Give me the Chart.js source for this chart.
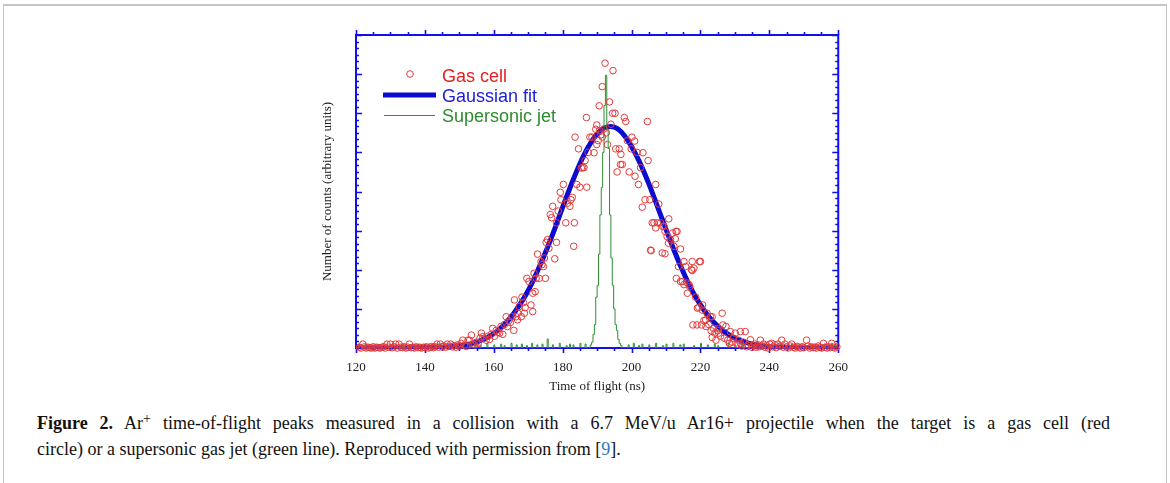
<!DOCTYPE html>
<html>
<head>
<meta charset="utf-8">
<title>Ar+ time-of-flight peaks</title>
<script src="https://cdn.jsdelivr.net/npm/chart.js@4.4.1/dist/chart.umd.min.js"></script>
<style>
  html, body { margin: 0; padding: 0; background: #fff; }
  body { width: 1170px; height: 483px; position: relative; overflow: hidden; }
  .frame {
    position: absolute; left: 3px; top: 4px; width: 1162px; height: 540px;
    border: 1px solid #c6c6c6; border-top: 2px solid #c6c6c6;
  }
  .plot { position: absolute; left: 300px; top: 20px; width: 560px; height: 390px; }
  .caption {
    position: absolute; left: 37px; top: 410px; width: 1073px;
    font-family: "Liberation Serif", "Times New Roman", serif;
    font-size: 18px; line-height: 26px; color: #111; white-space: nowrap;
  }
  .caption .first { text-align: justify; text-align-last: justify; }
  .caption sup { font-size: 14px; line-height: 0; vertical-align: 6px; }
  .caption a { color: #2b7cb8; text-decoration: none; }
</style>
</head>
<body>
<div class="frame"></div>
<div class="plot"><canvas id="tof" width="560" height="390"></canvas></div>
<div class="caption">
  <div class="first"><b>Figure 2.</b> Ar<sup>+</sup> time-of-flight peaks measured in a collision with a 6.7 MeV/u Ar16+ projectile when the target is a gas cell (red</div>
  <div>circle) or a supersonic gas jet (green line). Reproduced with permission from [<a href="#">9</a>].</div>
</div>
<script>
// time (ns), counts (arbitrary units)
const gasCell = [
  [121.0, 0.02], [121.5, 0.0], [122.0, 0.1], [122.5, 0.03], [123.0, 0.0], [123.5, 0.02],
  [124.0, 0.01], [124.5, 0.0], [125.0, 0.03], [125.5, 0.0], [126.0, 0.02], [126.5, 0.01],
  [127.0, 0.0], [127.5, 0.02], [128.0, 0.03], [128.5, 0.0], [129.0, 0.1], [129.5, 0.02],
  [130.0, 0.1], [130.5, 0.01], [131.0, 0.03], [131.5, 0.1], [132.0, 0.0], [132.5, 0.1],
  [133.0, 0.02], [133.5, 0.01], [134.0, 0.03], [134.5, 0.0], [135.0, 0.02], [135.5, 0.1],
  [136.0, 0.01], [136.5, 0.02], [137.0, 0.0], [137.5, 0.03], [138.0, 0.01], [138.5, 0.02],
  [139.0, 0.0], [139.5, 0.02], [140.0, 0.01], [140.5, 0.03], [141.0, 0.0], [141.5, 0.02],
  [142.0, 0.04], [142.5, 0.01], [143.0, 0.03], [143.5, 0.1], [144.0, 0.02], [144.5, 0.1],
  [145.0, 0.03], [145.5, 0.05], [146.0, 0.02], [146.5, 0.1], [147.0, 0.04], [147.5, 0.1],
  [148.0, 0.03], [148.5, 0.06], [149.0, 0.02], [149.5, 0.08], [150.0, 0.05], [150.5, 0.12],
  [151.0, 0.2], [151.5, 0.07], [152.0, 0.04], [152.5, 0.2], [153.0, 0.2], [153.5, 0.33],
  [154.0, 0.1], [154.5, 0.08], [155.0, 0.15], [155.5, 0.12], [156.0, 0.25], [156.4, 0.38],
  [156.8, 0.29], [157.3, 0.25], [157.8, 0.2], [158.3, 0.3], [158.8, 0.22], [159.3, 0.35],
  [159.7, 0.5], [160.2, 0.3], [160.7, 0.45], [161.2, 0.4], [161.7, 0.38], [162.1, 0.55],
  [162.6, 0.35], [163.1, 0.6], [163.6, 0.8], [164.0, 0.55], [164.4, 0.7], [164.8, 0.65],
  [165.3, 0.8], [165.8, 0.45], [166.0, 1.23], [166.5, 0.8], [166.9, 0.72], [167.0, 0.89],
  [167.4, 1.06], [168.0, 0.8], [168.2, 1.3], [168.6, 1.16], [168.9, 0.89], [169.1, 1.03],
  [169.6, 1.78], [170.2, 1.7], [170.8, 1.1], [171.3, 1.4], [171.3, 0.93], [171.7, 1.91],
  [172.0, 1.44], [172.3, 1.78], [172.7, 2.4], [173.2, 1.78], [173.7, 2.21], [174.0, 2.13],
  [174.4, 2.08], [174.7, 2.3], [175.0, 1.78], [175.2, 2.7], [175.6, 2.77], [176.0, 2.55],
  [176.4, 3.41], [176.8, 3.33], [177.1, 3.62], [177.7, 2.28], [178.2, 3.2], [178.2, 2.7],
  [178.7, 3.5], [179.3, 3.98], [179.5, 3.79], [180.2, 4.18], [180.9, 3.2], [181.4, 3.7],
  [182.1, 3.62], [182.4, 3.79], [182.8, 3.85], [183.2, 2.6], [183.4, 3.2], [183.6, 5.39],
  [184.1, 4.18], [184.6, 5.09], [185.0, 4.11], [185.4, 4.6], [185.8, 4.61], [186.2, 4.61],
  [186.5, 4.79], [186.9, 5.89], [187.0, 4.11], [187.4, 5.0], [187.9, 5.39], [188.5, 5.39],
  [189.1, 4.99], [189.6, 5.59], [189.9, 5.2], [189.9, 5.7], [190.3, 5.3], [190.6, 6.19],
  [190.7, 5.56], [191.1, 5.45], [191.5, 6.68], [191.5, 5.39], [192.0, 5.6], [192.3, 7.28],
  [192.7, 5.5], [193.0, 5.2], [193.6, 6.29], [194.0, 5.72], [194.5, 6.0], [194.6, 7.09],
  [195.2, 6.0], [195.4, 5.09], [195.8, 4.5], [196.4, 5.09], [196.8, 4.69], [196.9, 4.95],
  [197.3, 4.69], [197.9, 5.89], [198.3, 5.79], [198.8, 5.3], [199.3, 4.5], [199.9, 5.09],
  [200.1, 5.39], [200.9, 5.29], [201.0, 4.39], [201.6, 5.0], [202.0, 4.18], [202.6, 4.61],
  [203.1, 3.6], [203.3, 4.99], [203.9, 3.79], [204.6, 5.79], [204.8, 4.79], [205.3, 3.79],
  [205.5, 2.5], [205.7, 2.49], [206.0, 3.2], [206.5, 3.2], [207.0, 4.18], [207.0, 3.07],
  [207.5, 3.2], [207.9, 3.68], [208.4, 3.2], [208.9, 2.43], [209.0, 3.11], [209.4, 3.11],
  [209.7, 2.98], [209.7, 2.41], [210.3, 2.85], [210.7, 2.68], [210.8, 3.3], [211.3, 2.77],
  [211.9, 2.94], [212.3, 2.6], [212.7, 2.79], [212.9, 2.98], [213.0, 1.78], [213.2, 2.98],
  [213.6, 2.08], [214.2, 2.53], [214.2, 1.7], [214.8, 1.7], [215.2, 2.21], [215.2, 1.62],
  [215.7, 2.08], [216.2, 1.66], [216.2, 1.4], [216.7, 1.62], [216.9, 1.57], [217.4, 2.0],
  [217.6, 2.21], [217.6, 1.98], [217.8, 0.59], [218.1, 2.04], [218.6, 1.3], [219.1, 1.02],
  [219.0, 0.59], [219.5, 1.04], [219.7, 2.21], [220.0, 2.21], [220.3, 0.59], [220.5, 0.97],
  [220.6, 1.1], [221.0, 0.7], [221.5, 0.72], [221.6, 0.55], [221.9, 0.89], [222.4, 0.6],
  [222.9, 0.8], [223.1, 0.44], [223.4, 0.27], [223.4, 0.8], [223.8, 0.5], [224.2, 0.38],
  [224.5, 0.2], [225.0, 0.45], [225.3, 0.5], [225.3, 0.38], [225.8, 0.3], [226.3, 0.89],
  [226.5, 0.59], [226.9, 0.25], [227.4, 0.55], [227.9, 0.2], [228.4, 0.12], [228.7, 0.42],
  [229.2, 0.15], [229.6, 0.25], [230.1, 0.38], [230.6, 0.1], [231.1, 0.2], [231.6, 0.42],
  [231.6, 0.12], [232.0, 0.05], [232.5, 0.15], [233.0, 0.42], [233.4, 0.03], [233.8, 0.08],
  [234.5, 0.21], [234.9, 0.02], [235.3, 0.06], [235.8, 0.1], [236.2, 0.02], [236.7, 0.08],
  [237.0, 0.03], [237.4, 0.2], [237.9, 0.05], [238.3, 0.1], [238.8, 0.02], [239.2, 0.06],
  [239.7, 0.0], [240.1, 0.1], [240.7, 0.12], [241.1, 0.03], [241.6, 0.08], [242.0, 0.01],
  [242.5, 0.1], [243.0, 0.04], [243.6, 0.2], [244.0, 0.02], [244.5, 0.1], [245.0, 0.03],
  [245.5, 0.0], [246.0, 0.05], [246.5, 0.1], [247.0, 0.02], [247.5, 0.0], [248.0, 0.04],
  [248.5, 0.02], [249.0, 0.0], [249.5, 0.03], [250.0, 0.01], [250.8, 0.2], [251.2, 0.05],
  [251.7, 0.0], [252.2, 0.03], [252.7, 0.01], [253.2, 0.02], [253.7, 0.0], [254.2, 0.05],
  [254.7, 0.02], [255.2, 0.0], [255.7, 0.12], [256.2, 0.02], [256.7, 0.0], [257.2, 0.03],
  [257.7, 0.01], [258.1, 0.12], [258.6, 0.02], [259.1, 0.0], [259.6, 0.03]
];

const fitTime = [120, 130, 140, 145, 150, 152.5, 155, 157.5, 160, 162.5, 165, 167.5, 170, 172.5,
  175, 177.5, 180, 182.5, 185, 187.5, 190, 192, 194, 196, 198, 200, 202.5, 205, 207.5, 210,
  212.5, 215, 217.5, 220, 222.5, 225, 227.5, 230, 232.5, 235, 240, 245, 250, 260];
const fitCounts = [0, 0, 0.01, 0.02, 0.06, 0.09, 0.15, 0.24, 0.37, 0.55, 0.79, 1.1, 1.47, 1.93,
  2.44, 3.0, 3.6, 4.18, 4.71, 5.15, 5.47, 5.62, 5.66, 5.6, 5.42, 5.15, 4.72, 4.2, 3.62, 3.03,
  2.46, 1.94, 1.48, 1.1, 0.79, 0.56, 0.38, 0.25, 0.16, 0.1, 0.03, 0.01, 0, 0];

// supersonic jet histogram: peak bins (left edge, counts)
const jetBins = [188.0, 188.4, 188.8, 189.2, 189.6, 190.0, 190.4, 190.8, 191.2, 191.6, 192.0,
  192.4, 192.8, 193.2, 193.6, 194.0, 194.4, 194.8, 195.2, 195.6, 196.0, 196.4, 196.8, 197.2];
const jetCounts = [0.08, 0.15, 0.35, 0.6, 1.3, 1.6, 2.4, 3.4, 4.1, 5.0, 6.2,
  6.97, 5.6, 5.1, 3.4, 2.3, 1.6, 1.0, 0.6, 0.45, 0.22, 0.12, 0.06, 0];
// small background counts of the jet spectrum
const jetNoiseTime = [120.7, 122.5, 130, 133.5, 137, 143, 144, 146, 149, 151, 153, 154.5, 156,
  158, 160, 162, 163, 165, 166.5, 168, 169.5, 171, 172.5, 174, 175.5, 177, 179, 181, 182, 183,
  185, 186.5, 199, 200.5, 202, 203, 205, 207, 209, 210, 212, 214, 215, 218, 220, 222, 224, 225,
  228, 230, 232, 236, 240, 243, 248, 252, 256, 258, 259];
const jetNoiseCounts = [0.1, 0.08, 0.06, 0.1, 0.05, 0.08, 0.1, 0.06, 0.12, 0.08, 0.05, 0.1, 0.07,
  0.12, 0.08, 0.1, 0.06, 0.12, 0.08, 0.1, 0.06, 0.12, 0.08, 0.1, 0.23, 0.08, 0.12, 0.06, 0.1,
  0.08, 0.12, 0.1, 0.08, 0.12, 0.06, 0.1, 0.08, 0.12, 0.06, 0.1, 0.12, 0.08, 0.1, 0.06, 0.12,
  0.08, 0.1, 0.06, 0.12, 0.08, 0.1, 0.06, 0.08, 0.1, 0.06, 0.08, 0.1, 0.12, 0.1];

const xMin = 120, xMax = 260, xMajor = 20, xMinor = 5;
const yMin = 0, yMax = 8, yMinorPerMajor = 6;

const axisBlue = '#1010ee';
const gasRed = '#e5393b';
const fitBlue = '#0c0cd0';
const jetGreen = '#2f8f32';

// build the stepped jet trace from the background spikes and the peak bins
const jetLine = [{ x: xMin, y: 0 }];
jetNoiseTime.forEach((t, i) => {
  if (t < jetBins[0]) {
    jetLine.push({ x: t, y: jetNoiseCounts[i] }, { x: t + 0.3, y: 0 });
  }
});
jetBins.forEach((t, i) => jetLine.push({ x: t, y: jetCounts[i] }));
jetNoiseTime.forEach((t, i) => {
  if (t > jetBins[jetBins.length - 1]) {
    jetLine.push({ x: t, y: jetNoiseCounts[i] }, { x: t + 0.3, y: 0 });
  }
});
jetLine.push({ x: xMax, y: 0 });

const frameAxes = {
  id: 'frameAxes',
  beforeDatasetsDraw(chart) {
    const { ctx, chartArea: a, scales: { x, y } } = chart;
    ctx.save();
    ctx.strokeStyle = axisBlue;
    ctx.lineWidth = 2;
    ctx.strokeRect(a.left, a.top, a.right - a.left, a.bottom - a.top);
    ctx.lineWidth = 1.6;
    ctx.beginPath();
    for (let t = xMin; t <= xMax; t += xMinor) {
      const px = Math.round(x.getPixelForValue(t)) + 0.5;
      const len = t % xMajor === 0 ? 5 : 3;
      ctx.moveTo(px, a.bottom);
      ctx.lineTo(px, a.bottom + len);
      ctx.moveTo(px, a.top);
      ctx.lineTo(px, a.top - len);
    }
    for (let k = 0; k <= (yMax - yMin) * yMinorPerMajor; k++) {
      const py = Math.round(y.getPixelForValue(yMin + k / yMinorPerMajor)) + 0.5;
      const len = k % yMinorPerMajor === 0 ? 6 : 3;
      ctx.moveTo(a.left, py);
      ctx.lineTo(a.left + len, py);
      ctx.moveTo(a.right, py);
      ctx.lineTo(a.right - len, py);
    }
    ctx.stroke();
    ctx.restore();
  },
};

const insideLegend = {
  id: 'insideLegend',
  afterDatasetsDraw(chart) {
    const { ctx, chartArea: a } = chart;
    const l = a.left, t = a.top;
    ctx.save();
    ctx.font = '18px "Liberation Sans", Arial, sans-serif';
    ctx.textBaseline = 'alphabetic';

    ctx.strokeStyle = gasRed;
    ctx.lineWidth = 1;
    ctx.beginPath();
    ctx.arc(l + 54, t + 39, 3.3, 0, Math.PI * 2);
    ctx.stroke();
    ctx.fillStyle = '#e4201f';
    ctx.fillText('Gas cell', l + 86, t + 47);

    ctx.strokeStyle = fitBlue;
    ctx.lineWidth = 5;
    ctx.beginPath();
    ctx.moveTo(l + 27, t + 60);
    ctx.lineTo(l + 80, t + 60);
    ctx.stroke();
    ctx.fillStyle = '#2020d8';
    ctx.fillText('Gaussian fit', l + 86, t + 67);

    ctx.strokeStyle = jetGreen;
    ctx.lineWidth = 1;
    ctx.beginPath();
    ctx.moveTo(l + 28, t + 80.5);
    ctx.lineTo(l + 79, t + 80.5);
    ctx.stroke();
    ctx.fillStyle = '#2e8a2e';
    ctx.fillText('Supersonic jet', l + 86, t + 87);
    ctx.restore();
  },
};

const serif = '"Liberation Serif", "Times New Roman", serif';

new Chart(document.getElementById('tof'), {
  type: 'line',
  data: {
    datasets: [
      {
        label: 'Gas cell',
        data: gasCell.map(([t, c]) => ({ x: t, y: c })),
        showLine: false,
        pointStyle: 'circle',
        pointRadius: 3.3,
        pointBorderWidth: 1,
        pointBorderColor: gasRed,
        pointBackgroundColor: 'rgba(255,255,255,0)',
        clip: false,
      },
      {
        label: 'Supersonic jet',
        data: jetLine,
        stepped: true,
        borderColor: jetGreen,
        borderWidth: 1,
        pointRadius: 0,
      },
      {
        label: 'Gaussian fit',
        data: fitTime.map((t, i) => ({ x: t, y: fitCounts[i] })),
        borderColor: fitBlue,
        borderWidth: 5,
        pointRadius: 0,
        cubicInterpolationMode: 'monotone',
        borderCapStyle: 'round',
      },
    ],
  },
  options: {
    responsive: false,
    animation: false,
    devicePixelRatio: 1,
    layout: { padding: { top: 15, right: 20, left: 0, bottom: 0 } },
    plugins: { legend: { display: false }, tooltip: { enabled: false } },
    scales: {
      x: {
        type: 'linear',
        min: xMin,
        max: xMax,
        grid: { display: false, drawTicks: false },
        border: { display: false },
        ticks: {
          stepSize: xMajor,
          autoSkip: false,
          maxRotation: 0,
          padding: 12,
          color: '#222',
          font: { family: serif, size: 13 },
        },
        title: {
          display: true,
          text: 'Time of flight (ns)',
          color: '#222',
          font: { family: serif, size: 13 },
          padding: { top: 0, bottom: 16 },
        },
        afterFit(scale) { scale.height = 62; },
      },
      y: {
        min: yMin,
        max: yMax,
        grid: { display: false, drawTicks: false },
        border: { display: false },
        ticks: { display: false, stepSize: 1 },
        title: {
          display: true,
          text: 'Number of counts (arbitrary units)',
          color: '#222',
          font: { family: serif, size: 13 },
          padding: { top: 20, bottom: 0 },
        },
        afterFit(scale) { scale.width = 56; },
      },
    },
  },
  plugins: [frameAxes, insideLegend],
});
</script>
</body>
</html>
